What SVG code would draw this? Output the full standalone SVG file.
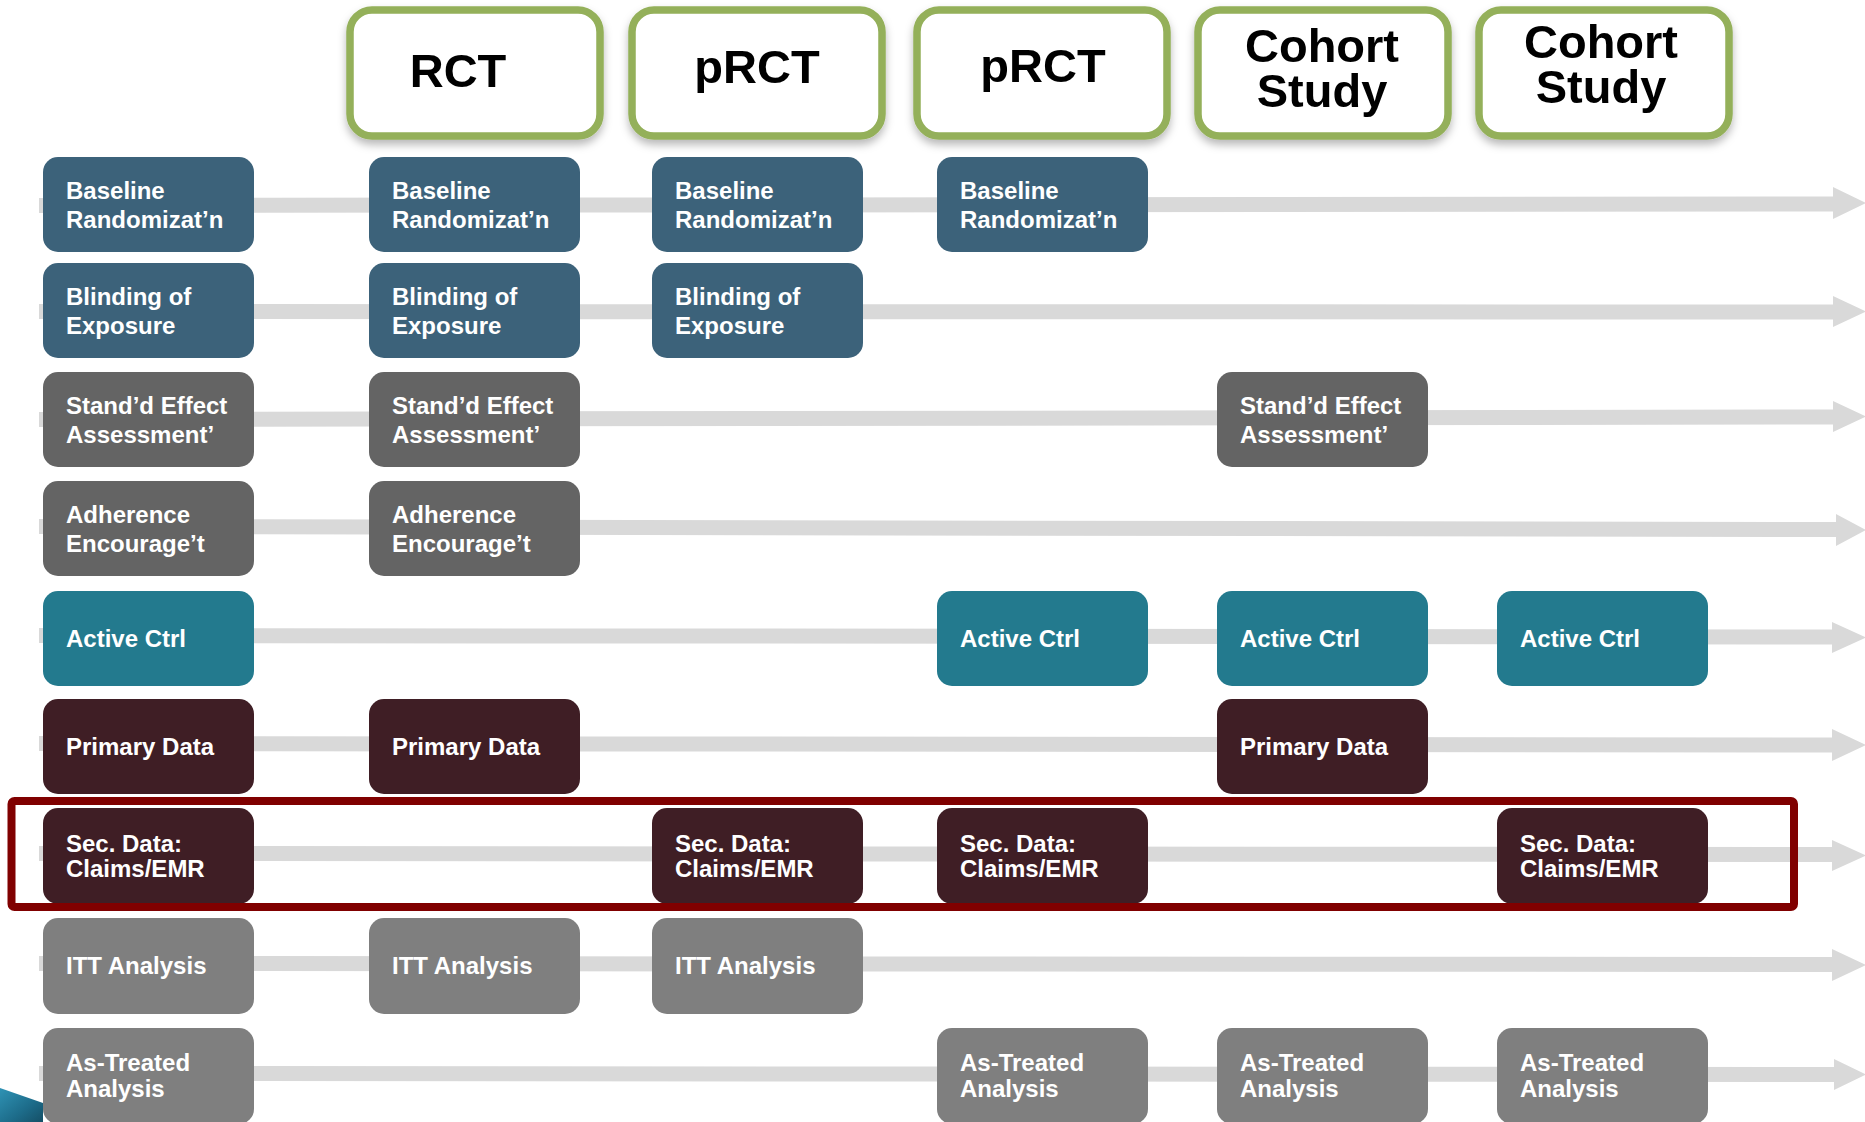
<svg xmlns="http://www.w3.org/2000/svg" width="1865" height="1122" viewBox="0 0 1865 1122">
<defs>
<filter id="sh" x="-10%" y="-10%" width="120%" height="130%">
<feDropShadow dx="0" dy="5" stdDeviation="4" flood-color="#000" flood-opacity="0.28"/>
</filter>
<linearGradient id="sw" x1="0" y1="0" x2="1" y2="1">
<stop offset="0" stop-color="#2f93b5"/>
<stop offset="0.6" stop-color="#1d6c8a"/>
<stop offset="1" stop-color="#154f66"/>
</linearGradient>
</defs>
<style>
.hdr{fill:#fff;stroke:#94b05a;stroke-width:7.5}
.ht{font-family:"Liberation Sans",Arial,sans-serif;font-weight:bold;font-size:47px;fill:#000;text-anchor:middle}
.t{font-family:"Liberation Sans",Arial,sans-serif;font-weight:bold;font-size:24px;fill:#fff}
.bar{fill:#d9d9d9}
.b1{fill:#3c627a}
.b2{fill:#646464}
.b3{fill:#237a8e}
.b4{fill:#3f1e25}
.b5{fill:#7f7f7f}
</style>
<rect width="1865" height="1122" fill="#fff"/>
<polygon points="0,1088 43,1103 43,1122 0,1122" fill="url(#sw)"/>

<g id="connectors">
<polygon class="bar" points="39,198 1833,196.5 1833,187 1866,203 1833,219 1833,211.5 39,213"/>
<polygon class="bar" points="39,304 1833,304.5 1833,296 1866,311.5 1833,327 1833,319.5 39,319"/>
<polygon class="bar" points="39,412 1833,409.5 1833,401 1866,416.5 1833,432 1833,424.5 39,427"/>
<polygon class="bar" points="39,519 1836,522 1836,514 1866,530 1836,546 1836,537 39,534"/>
<polygon class="bar" points="39,628 1832,629.5 1832,622 1866,637.5 1832,653 1832,644.5 39,643"/>
<polygon class="bar" points="39,736 1832,737.5 1832,729 1866,745 1832,761 1832,752.5 39,751"/>
<polygon class="bar" points="39,846 1832,847 1832,840 1866,855.5 1832,871 1832,862 39,861"/>
<polygon class="bar" points="39,956 1832,957 1832,949 1866,965 1832,981 1832,972 39,971"/>
<polygon class="bar" points="39,1066 1834,1067 1834,1059 1866,1074.5 1834,1090 1834,1082 39,1081"/>
</g>

<g id="hdr-rct" filter="url(#sh)"><rect class="hdr" x="350" y="10" width="250" height="126" rx="22"/><text class="ht" x="458" y="87">RCT</text></g>
<g id="hdr-prct1" filter="url(#sh)"><rect class="hdr" x="632" y="10" width="250" height="126" rx="22"/><text class="ht" x="757" y="83">pRCT</text></g>
<g id="hdr-prct2" filter="url(#sh)"><rect class="hdr" x="917" y="10" width="250" height="126" rx="22"/><text class="ht" x="1043" y="82">pRCT</text></g>
<g id="hdr-cohort1" filter="url(#sh)"><rect class="hdr" x="1198" y="10" width="250" height="126" rx="22"/><text class="ht"><tspan x="1322" y="62">Cohort</tspan><tspan x="1322" y="107">Study</tspan></text></g>
<g id="hdr-cohort2" filter="url(#sh)"><rect class="hdr" x="1479" y="10" width="250" height="126" rx="22"/><text class="ht"><tspan x="1601" y="58">Cohort</tspan><tspan x="1601" y="103">Study</tspan></text></g>

<!-- Row 1: Baseline Randomization -->
<g id="r1c1"><rect class="b1" x="43" y="157" width="211" height="95" rx="15"/><text class="t" x="66" y="199">Baseline</text><text class="t" x="66" y="228">Randomizat’n</text></g>
<g id="r1c2"><rect class="b1" x="369" y="157" width="211" height="95" rx="15"/><text class="t" x="392" y="199">Baseline</text><text class="t" x="392" y="228">Randomizat’n</text></g>
<g id="r1c3"><rect class="b1" x="652" y="157" width="211" height="95" rx="15"/><text class="t" x="675" y="199">Baseline</text><text class="t" x="675" y="228">Randomizat’n</text></g>
<g id="r1c4"><rect class="b1" x="937" y="157" width="211" height="95" rx="15"/><text class="t" x="960" y="199">Baseline</text><text class="t" x="960" y="228">Randomizat’n</text></g>

<!-- Row 2: Blinding -->
<g id="r2c1"><rect class="b1" x="43" y="263" width="211" height="95" rx="15"/><text class="t" x="66" y="305">Blinding of</text><text class="t" x="66" y="334">Exposure</text></g>
<g id="r2c2"><rect class="b1" x="369" y="263" width="211" height="95" rx="15"/><text class="t" x="392" y="305">Blinding of</text><text class="t" x="392" y="334">Exposure</text></g>
<g id="r2c3"><rect class="b1" x="652" y="263" width="211" height="95" rx="15"/><text class="t" x="675" y="305">Blinding of</text><text class="t" x="675" y="334">Exposure</text></g>

<!-- Row 3: Standardized effect -->
<g id="r3c1"><rect class="b2" x="43" y="372" width="211" height="95" rx="15"/><text class="t" x="66" y="414">Stand’d Effect</text><text class="t" x="66" y="443">Assessment’</text></g>
<g id="r3c2"><rect class="b2" x="369" y="372" width="211" height="95" rx="15"/><text class="t" x="392" y="414">Stand’d Effect</text><text class="t" x="392" y="443">Assessment’</text></g>
<g id="r3c5"><rect class="b2" x="1217" y="372" width="211" height="95" rx="15"/><text class="t" x="1240" y="414">Stand’d Effect</text><text class="t" x="1240" y="443">Assessment’</text></g>

<!-- Row 4: Adherence -->
<g id="r4c1"><rect class="b2" x="43" y="481" width="211" height="95" rx="15"/><text class="t" x="66" y="523">Adherence</text><text class="t" x="66" y="552">Encourage’t</text></g>
<g id="r4c2"><rect class="b2" x="369" y="481" width="211" height="95" rx="15"/><text class="t" x="392" y="523">Adherence</text><text class="t" x="392" y="552">Encourage’t</text></g>

<!-- Row 5: Active Ctrl -->
<g id="r5c1"><rect class="b3" x="43" y="591" width="211" height="95" rx="15"/><text class="t" x="66" y="647">Active Ctrl</text></g>
<g id="r5c4"><rect class="b3" x="937" y="591" width="211" height="95" rx="15"/><text class="t" x="960" y="647">Active Ctrl</text></g>
<g id="r5c5"><rect class="b3" x="1217" y="591" width="211" height="95" rx="15"/><text class="t" x="1240" y="647">Active Ctrl</text></g>
<g id="r5c6"><rect class="b3" x="1497" y="591" width="211" height="95" rx="15"/><text class="t" x="1520" y="647">Active Ctrl</text></g>

<!-- Row 6: Primary Data -->
<g id="r6c1"><rect class="b4" x="43" y="699" width="211" height="95" rx="15"/><text class="t" x="66" y="755">Primary Data</text></g>
<g id="r6c2"><rect class="b4" x="369" y="699" width="211" height="95" rx="15"/><text class="t" x="392" y="755">Primary Data</text></g>
<g id="r6c5"><rect class="b4" x="1217" y="699" width="211" height="95" rx="15"/><text class="t" x="1240" y="755">Primary Data</text></g>

<!-- Row 7: Secondary data -->
<g id="r7c1"><rect class="b4" x="43" y="808" width="211" height="96" rx="15"/><text class="t" x="66" y="852">Sec. Data:</text><text class="t" x="66" y="877">Claims/EMR</text></g>
<g id="r7c3"><rect class="b4" x="652" y="808" width="211" height="96" rx="15"/><text class="t" x="675" y="852">Sec. Data:</text><text class="t" x="675" y="877">Claims/EMR</text></g>
<g id="r7c4"><rect class="b4" x="937" y="808" width="211" height="96" rx="15"/><text class="t" x="960" y="852">Sec. Data:</text><text class="t" x="960" y="877">Claims/EMR</text></g>
<g id="r7c6"><rect class="b4" x="1497" y="808" width="211" height="96" rx="15"/><text class="t" x="1520" y="852">Sec. Data:</text><text class="t" x="1520" y="877">Claims/EMR</text></g>

<!-- Row 8: ITT -->
<g id="r8c1"><rect class="b5" x="43" y="918" width="211" height="96" rx="15"/><text class="t" x="66" y="974">ITT Analysis</text></g>
<g id="r8c2"><rect class="b5" x="369" y="918" width="211" height="96" rx="15"/><text class="t" x="392" y="974">ITT Analysis</text></g>
<g id="r8c3"><rect class="b5" x="652" y="918" width="211" height="96" rx="15"/><text class="t" x="675" y="974">ITT Analysis</text></g>

<!-- Row 9: As-Treated -->
<g id="r9c1"><rect class="b5" x="43" y="1028" width="211" height="96" rx="15"/><text class="t" x="66" y="1071">As-Treated</text><text class="t" x="66" y="1097">Analysis</text></g>
<g id="r9c4"><rect class="b5" x="937" y="1028" width="211" height="96" rx="15"/><text class="t" x="960" y="1071">As-Treated</text><text class="t" x="960" y="1097">Analysis</text></g>
<g id="r9c5"><rect class="b5" x="1217" y="1028" width="211" height="96" rx="15"/><text class="t" x="1240" y="1071">As-Treated</text><text class="t" x="1240" y="1097">Analysis</text></g>
<g id="r9c6"><rect class="b5" x="1497" y="1028" width="211" height="96" rx="15"/><text class="t" x="1520" y="1071">As-Treated</text><text class="t" x="1520" y="1097">Analysis</text></g>

<g id="highlight"><rect x="11.5" y="801" width="1782.5" height="106" rx="3" fill="none" stroke="#800000" stroke-width="8"/></g>
</svg>
